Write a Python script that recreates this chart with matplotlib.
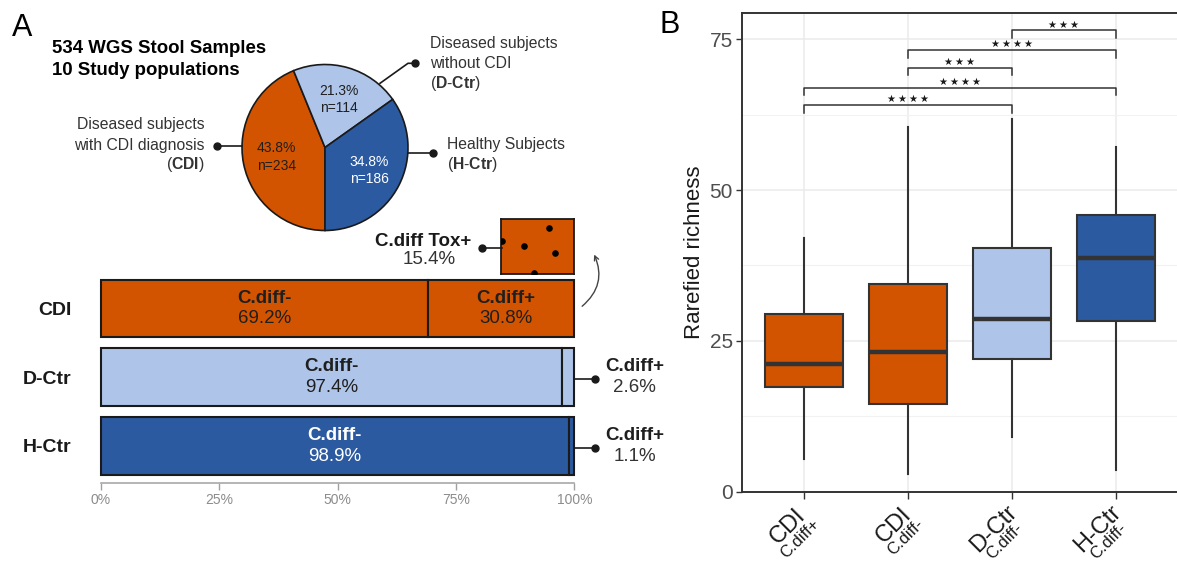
import numpy as np
import matplotlib.pyplot as plt
from matplotlib.patches import FancyArrowPatch
from matplotlib.transforms import ScaledTranslation

plt.rcParams['font.family'] = ['Liberation Sans', 'DejaVu Sans']
plt.rcParams['mathtext.fontset'] = 'custom'
plt.rcParams['mathtext.rm'] = 'Liberation Sans'
plt.rcParams['mathtext.it'] = 'Liberation Sans:italic'
plt.rcParams['mathtext.bf'] = 'Liberation Sans:bold'

# cohort composition
pie_groups = ['CDI', 'D-Ctr', 'H-Ctr']
pie_counts = [234, 114, 186]

# C. difficile carriage per cohort (%)
bar_groups = ['CDI', 'D-Ctr', 'H-Ctr']
cdiff_neg = [69.2, 97.4, 98.9]
cdiff_pos = [30.8, 2.6, 1.1]
tox_pos = 15.4
tox_dots_x = [0.65, 0.31, 0.73, 0.445, 0.01]
tox_dots_y = [0.84, 0.51, 0.39, 0.02, 0.60]

# rarefied richness per group
box_groups = ['CDI', 'CDI', 'D-Ctr', 'H-Ctr']
box_status = ['C.diff+', 'C.diff-', 'C.diff-', 'C.diff-']
box_whishi = [42.0, 60.4, 61.7, 57.2]
box_q3 = [29.5, 34.4, 40.4, 45.8]
box_med = [21.1, 23.1, 28.7, 38.7]
box_q1 = [17.3, 14.5, 22.0, 28.3]
box_whislo = [5.5, 3.0, 9.0, 3.6]

# pairwise tests: (group a, group b, bracket height, label)
comparisons = [(1, 3, 64.1, '****'), (1, 4, 67.0, '****'), (2, 3, 70.3, '***'),
               (2, 4, 73.2, '****'), (3, 4, 76.5, '***')]

ORANGE = '#D35400'
LIGHT = '#AEC5E9'
DARK = '#2C5AA0'
group_colors = {'CDI': ORANGE, 'D-Ctr': LIGHT, 'H-Ctr': DARK}
text_on = {'CDI': '#1f1f1f', 'D-Ctr': '#1f1f1f', 'H-Ctr': 'white'}

W, H = 1177, 562
fig = plt.figure(figsize=(W / 100, H / 100), dpi=100)
renderer = fig.canvas.get_renderer()


def px_axes(x0, y0, x1, y1, **kw):
    """Axes placed by pixel box (top-left origin)."""
    return fig.add_axes([x0 / W, 1 - y1 / H, (x1 - x0) / W, (y1 - y0) / H], **kw)


def px_shift(dx, dy):
    return ScaledTranslation(dx / 100, dy / 100, fig.dpi_scale_trans)


def text_width(s, size):
    t = fig.text(0, 0, s, fontsize=size)
    w = t.get_window_extent(renderer).width
    t.remove()
    return w


# ---------------- pie ----------------
pie_ax = px_axes(221.25, 43.75, 428.75, 251.25)
wedges, _ = pie_ax.pie(pie_counts, colors=[group_colors[g] for g in pie_groups],
                       startangle=-90, counterclock=False,
                       wedgeprops=dict(edgecolor='#1a1a1a', linewidth=1.2))
total = sum(pie_counts)
for w, g, n in zip(wedges, pie_groups, pie_counts):
    ang = np.deg2rad((w.theta1 + w.theta2) / 2)
    r = 0.6
    pie_ax.text(r * np.cos(ang), r * np.sin(ang), f'{100 * n / total:.1f}%\nn={n}',
                ha='center', va='center', fontsize=10, linespacing=1.3,
                color=text_on[g])

# ---------------- stacked bars ----------------
bar_ax = px_axes(100.7, 270.8, 574.3, 483.3)
ypos = [2, 1, 0]
bar_h = 0.845
for y, g, neg, pos in zip(ypos, bar_groups, cdiff_neg, cdiff_pos):
    c = group_colors[g]
    bar_ax.barh(y, neg, height=bar_h, color=c, edgecolor='#1a1a1a', linewidth=1.5,
                clip_on=False)
    bar_ax.barh(y, pos, left=neg, height=bar_h, color=c, edgecolor='#1a1a1a',
                linewidth=1.5, clip_on=False)
    tc = text_on[g]
    bar_ax.annotate('C.diff-', (neg / 2, y), xytext=(0, 7.5), textcoords='offset points',
                    ha='center', va='center', fontsize=13.5, fontweight='bold', color=tc)
    bar_ax.annotate(f'{neg}%', (neg / 2, y), xytext=(0, -7.5), textcoords='offset points',
                    ha='center', va='center', fontsize=13.5, color=tc)
    if pos > 10:
        bar_ax.annotate('C.diff+', (neg + pos / 2, y), xytext=(3, 7.5),
                        textcoords='offset points', ha='center', va='center',
                        fontsize=13.5, fontweight='bold', color=tc)
        bar_ax.annotate(f'{pos}%', (neg + pos / 2, y), xytext=(3, -7.5),
                        textcoords='offset points', ha='center', va='center',
                        fontsize=13.5, color=tc)
    else:
        yl = y - 0.03
        bar_ax.plot([100, 104.4], [yl, yl], color='#1a1a1a', lw=1.2, clip_on=False)
        bar_ax.plot([104.4], [yl], 'o', color='#1a1a1a', ms=5, clip_on=False)
        bar_ax.annotate('C.diff+', (112.8, y), xytext=(0, 7.5), textcoords='offset points',
                        ha='center', va='center', fontsize=13.5, fontweight='bold',
                        color='#1f1f1f', annotation_clip=False)
        bar_ax.annotate(f'{pos}%', (112.8, y), xytext=(0, -7.5), textcoords='offset points',
                        ha='center', va='center', fontsize=13.5, color='#333333',
                        annotation_clip=False)

bar_ax.set_xlim(0, 100)
bar_ax.set_ylim(-0.55, 2.55)
bar_ax.set_xticks([0, 25, 50, 75, 100])
bar_ax.set_xticklabels(['0%', '25%', '50%', '75%', '100%'])
bar_ax.set_yticks(ypos)
bar_ax.set_yticklabels(bar_groups, fontsize=14, fontweight='bold', color='#1a1a1a')
bar_ax.tick_params(axis='y', length=0, pad=21)
bar_ax.tick_params(axis='x', length=4.8, width=1, color='#A0A0A0', labelcolor='#8C8C8C',
                   labelsize=10, pad=2)
for side in ['left', 'right', 'top']:
    bar_ax.spines[side].set_visible(False)
bar_ax.spines['bottom'].set_color('#A8A8A8')
bar_ax.spines['bottom'].set_linewidth(1.2)
bar_ax.set_facecolor('none')

# toxigenic fraction of C.diff+ CDI samples, on the same % scale as the bars
x0 = 100.7 + (100 - tox_pos) / 100 * (574.3 - 100.7)
tox_ax = px_axes(x0, 219, 574.3, 274)
tox_ax.set_facecolor(ORANGE)
tox_ax.scatter(tox_dots_x, tox_dots_y, s=14, color='black', zorder=3)
tox_ax.set_xlim(0, 1)
tox_ax.set_ylim(0, 1)
tox_ax.set_xticks([])
tox_ax.set_yticks([])
for sp in tox_ax.spines.values():
    sp.set_color('#1a1a1a')
    sp.set_linewidth(1.3)

# ---------------- boxplots ----------------
box_ax = px_axes(741.7, 13.3, 1178.3, 491.7)
stats = [dict(med=m, q1=a, q3=b, whislo=lo, whishi=hi, fliers=[])
         for m, a, b, lo, hi in zip(box_med, box_q1, box_q3, box_whislo, box_whishi)]
positions = [1, 2, 3, 4]
bp = box_ax.bxp(stats, positions=positions, widths=0.75, patch_artist=True,
                showcaps=False, showfliers=False,
                boxprops=dict(edgecolor='#333333', linewidth=1.5),
                whiskerprops=dict(color='#333333', linewidth=1.5),
                medianprops=dict(color='#333333', linewidth=3.2, solid_capstyle='butt'))
for patch, g in zip(bp['boxes'], box_groups):
    patch.set_facecolor(group_colors[g])
    patch.set_zorder(3)
for ln in bp['whiskers'] + bp['medians']:
    ln.set_zorder(3)

for a, b, yv, lab in comparisons:
    box_ax.plot([a, a, b, b], [yv - 1.25, yv, yv, yv - 1.25], color='#333333', lw=1.1,
                zorder=4)
    box_ax.text((a + b) / 2, yv + 0.95, '\u2009'.join('\u2605' * len(lab)),
                ha='center', va='center', fontsize=7.2, family=['DejaVu Sans'],
                color='#1a1a1a', zorder=4)

box_ax.set_xlim(0.4, 4.6)
box_ax.set_ylim(0, 79.3)
box_ax.set_yticks([0, 25, 50, 75])
box_ax.set_yticks([12.5, 37.5, 62.5], minor=True)
box_ax.set_xticks(positions)
box_ax.set_xticklabels([])
box_ax.grid(True, which='major', color='#EBEBEB', lw=1.1, zorder=0)
box_ax.grid(True, which='minor', axis='y', color='#F2F2F2', lw=0.8, zorder=0)
box_ax.set_axisbelow(True)
box_ax.tick_params(axis='y', which='major', length=4.5, width=1, color='#333333',
                   labelcolor='#4D4D4D', labelsize=15, pad=2)
box_ax.tick_params(axis='y', which='minor', length=0)
box_ax.tick_params(axis='x', length=5, width=1, color='#333333')
for sp in box_ax.spines.values():
    sp.set_color('#333333')
    sp.set_linewidth(1.4)
box_ax.set_ylabel('Rarefied richness', fontsize=16, color='#1a1a1a', labelpad=3)

# rotated two-line group labels: name over C.diff status, centred on each other,
# block right end hung below the tick
xt = box_ax.get_xaxis_transform()
main_size, sub_size = 17, 12
c45 = np.cos(np.pi / 4)
drop = 15
for xpos, g, s in zip(positions, box_groups, box_status):
    half = max(text_width(g, main_size), text_width(s, sub_size)) / 2
    cx, cy = 5.5 - c45 * half, -22 - c45 * half
    box_ax.text(xpos, 0, g, rotation=45, rotation_mode='anchor', ha='center',
                va='baseline', fontsize=main_size, color='#1a1a1a',
                transform=xt + px_shift(cx, cy))
    box_ax.text(xpos, 0, s, rotation=45, rotation_mode='anchor', ha='center',
                va='baseline', fontsize=sub_size, color='#1a1a1a',
                transform=xt + px_shift(cx + c45 * drop, cy - c45 * drop))

# ---------------- overlay: panel letters, callouts ----------------
ov = fig.add_axes([0, 0, 1, 1])
ov.set_xlim(0, W)
ov.set_ylim(H, 0)
ov.axis('off')

ov.text(12, 13, 'A', fontsize=22, ha='left', va='top')
ov.text(660, 10, 'B', fontsize=22, ha='left', va='top')
ov.text(52, 53, '534 WGS Stool Samples', fontsize=13.4, fontweight='bold', va='baseline')
ov.text(52, 75, '10 Study populations', fontsize=13.4, fontweight='bold', va='baseline')

lab_kw = dict(fontsize=11.3, color='#333333', va='center')
# CDI callout
ov.plot([216.7, 242], [145.7, 145.7], color='#1a1a1a', lw=1.2)
ov.plot([216.7], [145.7], 'o', color='#1a1a1a', ms=5)
ov.text(205, 125, 'Diseased subjects', ha='right', **lab_kw)
ov.text(205, 145.7, 'with CDI diagnosis', ha='right', **lab_kw)
ov.text(205, 164, r'($\mathbf{CDI}$)', ha='right', **lab_kw)
# D-Ctr callout
ov.plot([380, 408, 415], [83.3, 63.3, 63.3], color='#1a1a1a', lw=1.2)
ov.plot([415], [63.3], 'o', color='#1a1a1a', ms=5)
ov.text(430, 43.3, 'Diseased subjects', ha='left', **lab_kw)
ov.text(430, 63.3, 'without CDI', ha='left', **lab_kw)
ov.text(430, 83.3, r'($\mathbf{D}$-$\mathbf{Ctr}$)', ha='left', **lab_kw)
# H-Ctr callout
ov.plot([408, 433.3], [153.3, 153.3], color='#1a1a1a', lw=1.2)
ov.plot([433.3], [153.3], 'o', color='#1a1a1a', ms=5)
ov.text(446.7, 144, 'Healthy Subjects', ha='left', **lab_kw)
ov.text(446.7, 164, r'($\mathbf{H}$-$\mathbf{Ctr}$)', ha='left', **lab_kw)

# toxigenic callout
ov.plot([482.3, 501.7], [247.7, 247.7], color='#1a1a1a', lw=1.2)
ov.plot([482.3], [247.7], 'o', color='#1a1a1a', ms=5)
ov.text(423, 241.7, 'C.diff Tox+', ha='center', va='center', fontsize=13.5,
        fontweight='bold', color='#1a1a1a')
ov.text(429, 259.3, f'{tox_pos}%', ha='center', va='center', fontsize=13.5,
        color='#333333')
ov.add_patch(FancyArrowPatch((580, 308), (593, 252), connectionstyle='arc3,rad=0.4',
                             arrowstyle='->', mutation_scale=8, color='#444444', lw=1))

fig.savefig('out.png', dpi=100)
